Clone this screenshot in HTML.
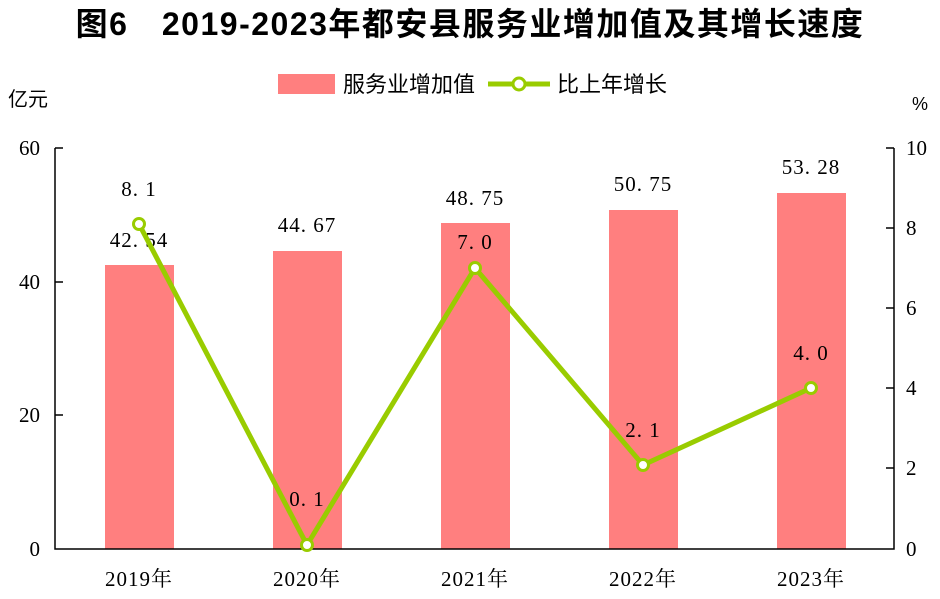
<!DOCTYPE html><html><head><meta charset="utf-8"><style>body{margin:0;background:#fff}</style></head><body>
<svg width="940" height="594" xmlns="http://www.w3.org/2000/svg" font-family="Liberation Serif, Noto Serif CJK SC, serif">
<rect width="940" height="594" fill="#fff"/>
<text x="470" y="35" text-anchor="middle" font-size="32" letter-spacing="1.5" font-weight="bold" font-family="Liberation Sans, Noto Sans CJK SC, sans-serif">图6　2019-2023年都安县服务业增加值及其增长速度</text>
<rect x="278" y="74" width="57" height="20" fill="#FF7F7F"/>
<text x="343" y="92" font-size="22" font-family="Liberation Sans, Noto Sans CJK SC, sans-serif">服务业增加值</text>
<line x1="488" y1="84" x2="550" y2="84" stroke="#99CC00" stroke-width="5"/>
<circle cx="519" cy="84" r="6" fill="#fff" stroke="#99CC00" stroke-width="3"/>
<text x="557" y="92" font-size="22" font-family="Liberation Sans, Noto Sans CJK SC, sans-serif">比上年增长</text>
<text x="8" y="106" font-size="20" font-family="Liberation Sans, Noto Sans CJK SC, sans-serif">亿元</text>
<text x="912" y="110" font-size="18" font-family="Liberation Sans, sans-serif">%</text>
<g fill="#FF7F7F">
<rect x="105" y="265" width="69" height="284"/>
<rect x="273" y="251" width="69" height="298"/>
<rect x="441" y="223" width="69" height="326"/>
<rect x="609" y="210" width="69" height="339"/>
<rect x="777" y="193" width="69" height="356"/>
</g>
<g stroke="#000" stroke-width="1.5" fill="none">
<path d="M55 148V549H894V148"/>
<path d="M55 148h8M55 282h8M55 415h8M886 148h8M886 228h8M886 308h8M886 388h8M886 468h8"/>
</g>
<g font-size="21" text-anchor="end">
<text x="40" y="155">60</text><text x="40" y="289">40</text><text x="40" y="422">20</text><text x="40" y="556">0</text>
</g>
<g font-size="21">
<text x="906" y="155">10</text><text x="906" y="235">8</text><text x="906" y="315">6</text><text x="906" y="395">4</text><text x="906" y="475">2</text><text x="906" y="556">0</text>
</g>
<g font-size="21" text-anchor="middle" letter-spacing="1">
<text x="139" y="586">2019年</text><text x="307" y="586">2020年</text><text x="475" y="586">2021年</text><text x="643" y="586">2022年</text><text x="811" y="586">2023年</text>
</g>
<g font-size="21" text-anchor="middle" letter-spacing="1">
<text x="139" y="247">42. 54</text><text x="307" y="232">44. 67</text><text x="475" y="205">48. 75</text><text x="643" y="191">50. 75</text><text x="811" y="174">53. 28</text>
<text x="139" y="196">8. 1</text><text x="307" y="506">0. 1</text><text x="475" y="249">7. 0</text><text x="643" y="437">2. 1</text><text x="811" y="360">4. 0</text>
</g>
<polyline points="139,224 307,545 475,268 643,465 811,388" fill="none" stroke="#99CC00" stroke-width="5" stroke-linejoin="round"/>
<g fill="#fff" stroke="#99CC00" stroke-width="3">
<circle cx="139" cy="224" r="5.5"/><circle cx="307" cy="545" r="5.5"/><circle cx="475" cy="268" r="5.5"/><circle cx="643" cy="465" r="5.5"/><circle cx="811" cy="388" r="5.5"/>
</g>
</svg>
</body></html>
